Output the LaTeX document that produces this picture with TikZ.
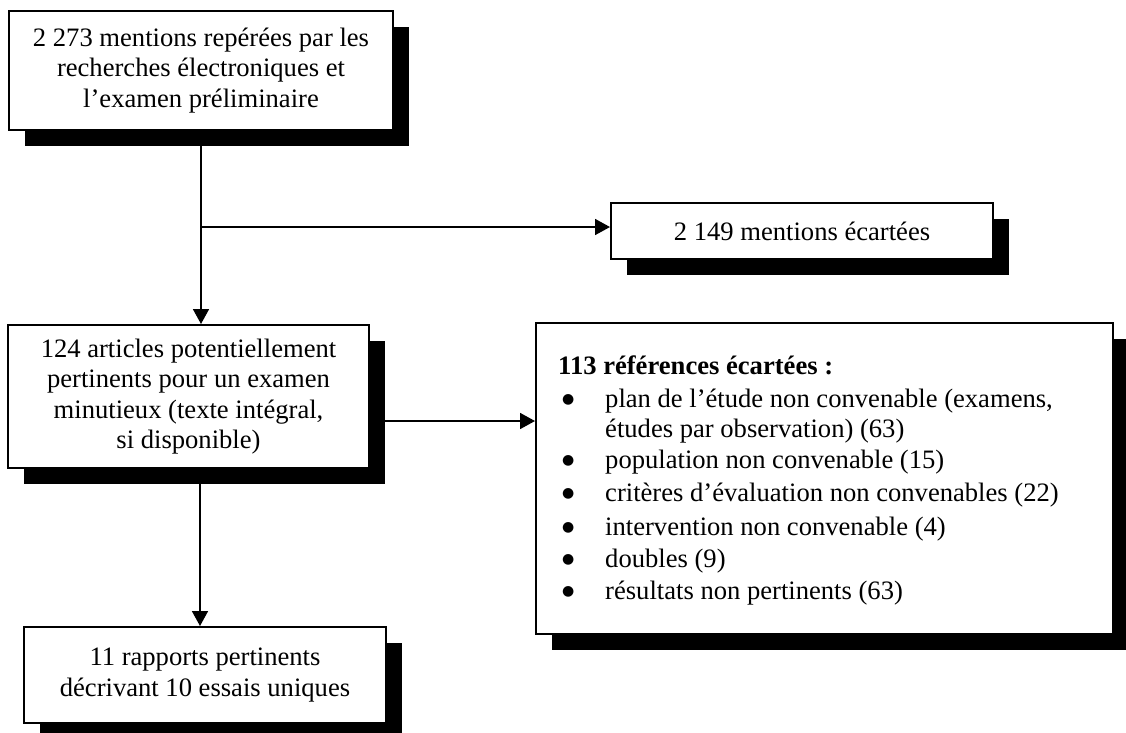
\documentclass[tikz,border=0pt]{standalone}
\usepackage{fontspec}
\setmainfont{Liberation Serif}
\newfontfamily\bulfont{DejaVu Sans}
\usetikzlibrary{arrows.meta,shadows}
\newcommand{\bul}{\makebox[43pt][l]{\raisebox{4pt}{\bulfont\fontsize{14}{14}\selectfont ●}}}
\begin{document}
\begin{tikzpicture}[x=1pt,y=-1pt,
  box/.style={draw=black, line width=2pt, fill=white, rectangle, inner sep=0pt, align=center,
    font=\fontsize{26.6}{30.5}\selectfont,
    drop shadow={shadow xshift=16pt, shadow yshift=-16pt, fill=black, opacity=1}},
  conn/.style={line width=1.7pt, -{Triangle[length=15pt,width=16pt]}},
  plain/.style={line width=1.7pt},
  lbl/.style={anchor=base west, inner sep=0pt, font=\fontsize{26.6}{30}\selectfont}]
\useasboundingbox (0,0) rectangle (1126,732);

\node[box, minimum width=384pt, minimum height=119pt] (b1) at (201,70.5)
  {2 273 mentions repérées par les\\recherches électroniques et\\l’examen préliminaire};
\node[box, minimum width=382pt, minimum height=56pt] (b2) at (802,231)
  {2 149 mentions écartées};
\node[box, minimum width=361pt, minimum height=143pt] (b3) at (188.5,396.5)
  {124 articles potentiellement\\pertinents pour un examen\\minutieux (texte intégral,\\si disponible)};
\node[box, minimum width=577pt, minimum height=311pt] (b4) at (824.5,478.5) {};
\node[box, minimum width=362pt, minimum height=96pt] (b5) at (205,675)
  {11 rapports pertinents\\décrivant 10 essais uniques};

\node[lbl] (h) at (558,374) {\textbf{113 références écartées :}};
\node[lbl] (l1) at (562,407) {\bul plan de l’étude non convenable (examens,};
\node[lbl] (l1b) at (605,437) {études par observation) (63)};
\node[lbl] (l2) at (562,468) {\bul population non convenable (15)};
\node[lbl] (l3) at (562,501) {\bul critères d’évaluation non convenables (22)};
\node[lbl] (l4) at (562,535) {\bul intervention non convenable (4)};
\node[lbl] (l5) at (562,567) {\bul doubles (9)};
\node[lbl] (l6) at (562,599) {\bul résultats non pertinents (63)};

\coordinate (j1) at (201,227);
\draw[plain] (b1.south) -- (j1);
\draw[conn] (j1) -- (j1 |- b3.north);
\draw[conn] (j1) -- (j1 -| b2.west);
\coordinate (j2) at (0,421);
\draw[conn] (j2 -| b3.east) -- (j2 -| b4.west);
\coordinate (j3) at (200,0);
\draw[conn] (j3 |- b3.south) -- (j3 |- b5.north);
\end{tikzpicture}
\end{document}
